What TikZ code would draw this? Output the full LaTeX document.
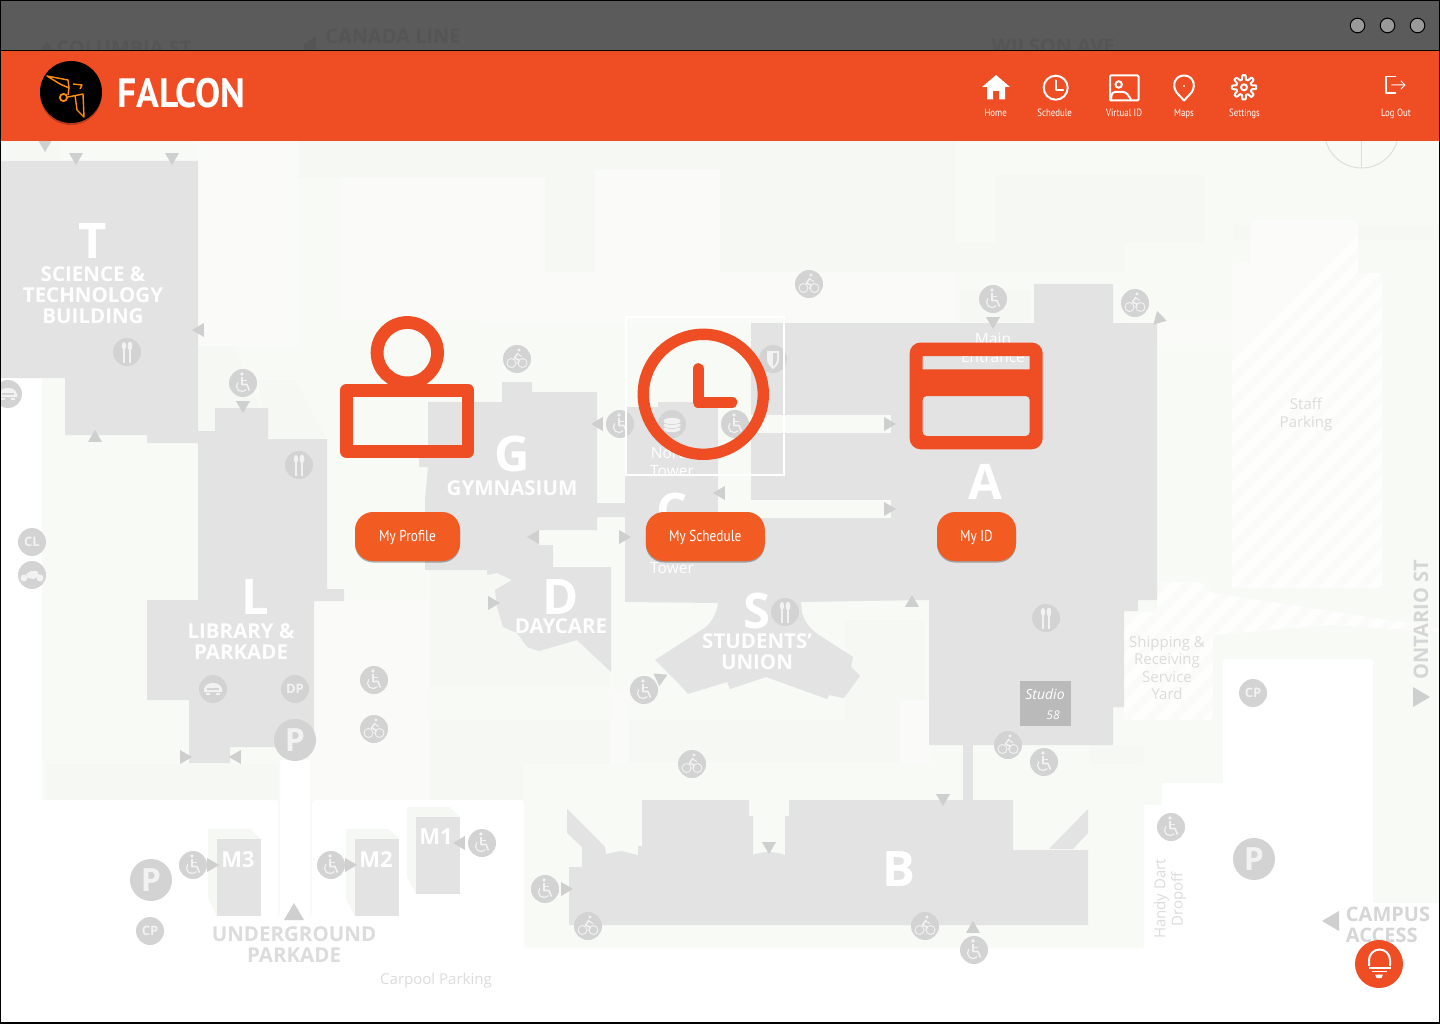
\documentclass[tikz,border=0pt]{standalone}
\usepackage{fontspec}
\setmainfont{Open Sans}
\newfontfamily\uifont[FakeStretch=0.84]{PT Sans}
\newfontfamily\brandfont[FakeStretch=0.92]{PT Sans}
\usetikzlibrary{shadows}
\definecolor{falcon}{HTML}{EF4D23}
\definecolor{falconbtn}{HTML}{F25B22}
\definecolor{barcol}{HTML}{5B5B5B}
\definecolor{ghostcol}{HTML}{555555}
\definecolor{mapbg}{HTML}{F8FAF5}
\definecolor{mapdark}{HTML}{F6F8F3}
\definecolor{maplight}{HTML}{FAFBF8}
\definecolor{hatchcol}{HTML}{FBFBF9}
\definecolor{bldcol}{HTML}{E3E3E3}
\definecolor{discol}{HTML}{D3D3D3}
\definecolor{tricol}{HTML}{CFCFCF}
\definecolor{txtgrey}{HTML}{DCDCDC}
\definecolor{glyphcol}{HTML}{F2F2F2}
\definecolor{logocol}{HTML}{FF8C0A}
\tikzset{
  bld/.style={fill=bldcol},
  biglet/.style={text=white,font=\bfseries\fontsize{49}{49}\selectfont,inner sep=0},
  bldtxt/.style={text=white!96!bldcol,align=center,inner sep=0,font=\bfseries\fontsize{20.5}{21.3}\selectfont},
  thintxt/.style={text=white,align=center,inner sep=0,font=\fontsize{15.5}{18}\selectfont},
  greytxt/.style={text=txtgrey,align=center,inner sep=0,font=\fontsize{15}{17.3}\selectfont},
  roadtxt/.style={text=tricol!85!white,align=center,inner sep=0,font=\bfseries\fontsize{20}{21.3}\selectfont},
  mletter/.style={text=white,inner sep=0,font=\bfseries\fontsize{22}{22}\selectfont},
  discnode/.style={circle,fill=discol,text=glyphcol,inner sep=0,minimum size=28,font=\bfseries\fontsize{13}{13}\selectfont},
  bignode/.style={discnode,minimum size=42,font=\bfseries\fontsize{32}{32}\selectfont},
  navtxt/.style={text=white,inner sep=0,anchor=base,font=\uifont\fontsize{10.5}{10.5}\selectfont},
  btn/.style={rounded corners=18,fill=falconbtn,text=white,minimum height=49,inner sep=0,
    text height=12,text depth=3,
    font=\uifont\fontsize{15.8}{15.8}\selectfont,
    drop shadow={shadow xshift=0pt,shadow yshift=-1.5pt,fill=black,opacity=.3}},
  hatchline/.style={draw=white,line width=9,opacity=.8},
  wheelpic/.pic={
    \fill[discol] (0,0) circle [radius=14];
    \fill[glyphcol] (-1,-9) circle [radius=1.8];
    \draw[glyphcol,line width=1.6,line join=round] (-1,-6) -- (-1,1.5) -- (4,1.5) -- (6.5,7.5);
    \draw[glyphcol,line width=1.3] (-1,-2.5) -- (4,-2.5);
    \draw[glyphcol,line width=1.2] (-5.2,-0.6) arc [start angle=220,end angle=40,radius=5.6];
  },
  bikepic/.pic={
    \fill[discol] (0,0) circle [radius=14];
    \draw[glyphcol,line width=.9] (-5.5,4) circle [radius=4.5];
    \draw[glyphcol,line width=.9] (5.5,4) circle [radius=4.5];
    \fill[glyphcol] (2,-9) circle [radius=1.6];
    \draw[glyphcol,line width=1.5,line join=round] (1,-6) -- (-2.5,-1) -- (2,1) -- (1,5);
    \draw[glyphcol,line width=1] (0.5,-5) -- (5,-2.5);
  },
  foodpic/.pic={
    \fill[discol] (0,0) circle [radius=14];
    \fill[glyphcol] (-3,-6) ellipse [x radius=2.2,y radius=4];
    \fill[glyphcol] (3,-6) ellipse [x radius=2.4,y radius=4.5];
    \draw[glyphcol,line width=1.4] (-3,-6) -- (-3,11);
    \draw[glyphcol,line width=1.4] (3,-6) -- (3,11);
  },
  carpic/.pic={
    \fill[discol] (0,0) circle [radius=14];
    \fill[glyphcol] (-9,0) .. controls (-8,-4) and (-5,-6) .. (0,-6) .. controls (5,-6) and (8,-4) .. (9,0) -- (9,3) -- (-9,3) -- cycle;
    \fill[discol] (-6,-1) rectangle (6,0.5);
    \fill[glyphcol] (-7,4) rectangle (-3,6);
    \fill[glyphcol] (3,4) rectangle (7,6);
  },
  motopic/.pic={
    \fill[discol] (0,0) circle [radius=14];
    \fill[glyphcol] (-8,3) circle [radius=3.5];
    \fill[glyphcol] (8,3) circle [radius=3.5];
    \fill[glyphcol] (-6,-1) -- (-1,-4) -- (5,-4) -- (7,0) -- (2,4) -- (-4,3) -- cycle;
  },
  stackpic/.pic={
    \fill[discol] (0,0) circle [radius=14];
    \foreach \sy in {5,1,-3}{
      \fill[glyphcol] (0,\sy) ellipse [x radius=9,y radius=3.6];
      \draw[discol,line width=.6] (0,\sy) ellipse [x radius=9,y radius=3.6];
    }
  },
  shieldpic/.pic={
    \fill[discol] (0,0) circle [radius=14];
    \fill[glyphcol] (-6,-8) -- (6,-8) -- (6,1) .. controls (6,5) and (2,8) .. (0,10) .. controls (-2,8) and (-6,5) .. (-6,1) -- cycle;
    \fill[discol] (0,-6) -- (4,-6) -- (4,1) .. controls (4,3) and (2,6) .. (0,7.5) -- cycle;
  },
}
\newcommand{\tmark}[4]{\fill[tricol,shift={(#1,#2)},rotate=#3,scale=#4] (1,0) -- (-.7,1) -- (-.7,-1) -- cycle;}
\begin{document}
\begin{tikzpicture}[x=1pt,y=-1pt]
\useasboundingbox (0,0) rectangle (1440,1024);
% map ground
\fill[mapbg] (0,141) rectangle (1440,1024);
\foreach \xa/\ya/\xb/\yb in {298/141/955/178,545/178/955/272,995/175/1205/243,955/243/1125/272,
  430/567/610/687,430/720/610/764,629/720/900/763,0/141/60/160,
  845/620/925/720,1090/745/1144/925,46/764/278/800,312/764/523/800,960/290/1030/322,1233/225/1440/240}
  \fill[mapdark] (\xa,\ya) rectangle (\xb,\yb);
\fill[mapdark] (198,346) -- (235,346) -- (268,430) -- (198,431) -- cycle;
\fill[mapdark] (258,380) -- (295,380) -- (325,437) -- (268,437) -- cycle;
% lighter paths
\foreach \xa/\ya/\xb/\yb in {198/141/298/346,340/178/545/320,595/170/720/300,760/272/955/320,
  480/272/760/322,610/690/629/800,900/700/930/800,1123/320/1232/345,310/600/430/800}
  \fill[maplight] (\xa,\ya) rectangle (\xb,\yb);
% white parking
\fill[white] (0,378) rectangle (42,800);
\fill[white,rounded corners=3] (0,800) rectangle (278,1024);
\fill[white,rounded corners=3] (312,800) rectangle (524,1024);
\fill[white] (280,760) rectangle (310,1024);
\fill[white] (0,916) rectangle (1440,1024);
\fill[mapbg,rounded corners=3] (524,764) rectangle (1144,948);
\fill[white,rounded corners=3] (1223,659) rectangle (1373,920);
\fill[white] (1162,783) rectangle (1373,1024);
\fill[white] (1144,805) rectangle (1373,1024);
\fill[white] (1373,903) rectangle (1440,1024);
% compass ring
\draw[mapdark!90!black,line width=1] (1361.5,131) circle [radius=37];
\draw[mapdark!90!black,line width=1] (1361.5,141) -- (1361.5,168);
% hatched staff parking and yard
\begin{scope}
  \clip[rounded corners=3] (1251,220) -- (1358,220) -- (1358,273) -- (1382,273) -- (1382,588) -- (1232,588) -- (1232,263) -- (1251,263) -- cycle;
  \fill[hatchcol] (1232,220) rectangle (1382,588);
  \foreach \i in {1000,1024,...,1760}
    \draw[hatchline] (\i,600) -- (\i+400,200);
\end{scope}
\begin{scope}
  \clip[rounded corners=3] (1124,612) -- (1157,612) -- (1157,582) -- (1200,582) -- (1213,593) -- (1440,628) -- (1440,632) -- (1330,625) -- (1213,635) -- (1213,720) -- (1124,720) -- cycle;
  \fill[hatchcol] (1124,582) rectangle (1440,720);
  \foreach \i in {1000,1024,...,1700}
    \draw[hatchline] (\i,760) -- (\i+240,520);
\end{scope}
% buildings
\fill[bld] (0,161) -- (198,161) -- (198,431) -- (215,431) -- (215,408) -- (268,408) -- (268,439) -- (327,439) -- (327,589) -- (344,589) -- (344,601) -- (314,601) -- (314,747) -- (230,747) -- (230,763) -- (189,763) -- (189,700) -- (147,700) -- (147,600) -- (198,600) -- (198,443) -- (147,443) -- (147,435) -- (65,435) -- (65,378) -- (0,378) -- cycle;
\fill[bld] (428,402) -- (502,402) -- (502,382) -- (532,382) -- (532,392) -- (597,392) -- (597,503) -- (625,503) -- (625,517) -- (597,517) -- (597,530) -- (539,530) -- (539,545) -- (553,545) -- (553,567) -- (611,567) -- (611,672) -- (577,640) -- (539,651) -- (527,647) -- (517,633) -- (503,627) -- (497,607) -- (495,590) -- (512,580) -- (497,573) -- (487,575) -- (487,570) -- (425,570) -- (425,500) -- (428,467) -- (419,467) -- (419,458) -- (428,458) -- cycle;
\fill[bld] (625,407) -- (658,407) -- (658,402) -- (697,402) -- (697,407) -- (718,407) -- (718,518) -- (751,518) -- (751,323) -- (1034,323) -- (1034,284) -- (1113,284) -- (1113,323) -- (1157,323) -- (1157,600) -- (1138,600) -- (1138,611) -- (1124,611) -- (1124,707) -- (1113,707) -- (1113,745) -- (929,745) -- (929,600) -- (801,602) -- (802,613) .. controls (806,625) and (812,630) .. (819,635) -- (853,657) -- (851,667) -- (860,676) -- (844,698) -- (829,695) -- (827,699) -- (766,677) -- (730,689) -- (727,682) -- (688,694) -- (680,685) -- (655,660) -- (706,627) .. controls (713,620) and (717,612) .. (718,603) -- (625,602) -- cycle;
\fill[mapbg] (718,415) rectangle (891,433);
\fill[mapbg] (718,500) rectangle (891,518);
\fill[bld] (963,745) rectangle (973,800);
\fill[bld] (569,867) -- (582,867) -- (582,847) -- (567,833) -- (567,809) -- (605,847) -- (606,854) -- (621,851) -- (638,855) -- (638,846) -- (642,846) -- (642,800) -- (749,800) -- (749,816) -- (753,816) -- (753,855) .. controls (763,851) and (775,851) .. (785,855) -- (785,816) -- (789,816) -- (789,800) -- (1013,800) -- (1013,850) -- (1088,850) -- (1088,925) -- (569,925) -- cycle;
\fill[bld] (1088,809) -- (1088,833) -- (1073,849) -- (1049,849) -- cycle;
\fill[mapdark] (208,829) -- (250,829) -- (261,839) -- (217,916) -- (208,899) -- cycle;
\fill[mapdark] (346,829) -- (388,829) -- (399,839) -- (355,916) -- (346,899) -- cycle;
\fill[mapdark] (407,807) -- (449,807) -- (460,817) -- (416,894) -- (407,877) -- cycle;
\fill[bld] (217,839) rectangle (261,916);
\fill[bld] (355,839) rectangle (399,916);
\fill[bld] (416,817) rectangle (460,894);
% building texts
\node[biglet] (letT) at (93,241) {T};
\node[bldtxt] (bldT) at (93,295) {SCIENCE \&\\TECHNOLOGY\\BUILDING};
\node[biglet] (letG) at (512,454) {G};
\node[bldtxt] (bldG) at (512,488) {GYMNASIUM};
\node[biglet] (letL) at (255,597) {L};
\node[bldtxt] (bldL) at (241,641.5) {LIBRARY \&\\PARKADE};
\node[biglet] (letD) at (561,597) {D};
\node[bldtxt] (bldD) at (561,626) {DAYCARE};
\node[biglet] (letS) at (757,611) {S};
\node[bldtxt] (bldS) at (757,651.5) {STUDENTS’\\UNION};
\node[biglet] (letA) at (985,482) {A};
\node[biglet] (letB) at (899,869) {B};
\node[biglet] (letC) at (672,511) {C};
\node[thintxt] (north) at (672,462) {North\\Tower};
\node[thintxt] (tower) at (672,568) {Tower};
\node[thintxt] (mainent) at (993,348) {Main\\Entrance};
\node[mletter] (mthree) at (238,860) {M3};
\node[mletter] (mtwo) at (376,860) {M2};
\node[mletter] (mone) at (436,837) {M1};
\node[roadtxt,text=txtgrey,font=\bfseries\fontsize{20.5}{21.3}\selectfont] (under) at (294,944.5) {UNDERGROUND\\PARKADE};
\node[greytxt] (carpool) at (436,980.5) {Carpool Parking};
\node[greytxt] (staff) at (1306,414.5) {Staff\\Parking};
\node[greytxt] (yard) at (1167,668) {Shipping \&\\Receiving\\Service\\Yard};
\node[greytxt,rotate=90] (handy) at (1170,899) {Handy Dart\\Dropoff};
\node[roadtxt,rotate=90] (ontario) at (1421,620) {ONTARIO ST};
\node[roadtxt,align=left] (campus) at (1388,924.5) {CAMPUS\\ACCESS};
% studio box
\fill[tricol!90!black] (1020,681) rectangle (1071,726);
\node[text=white,inner sep=0,font=\itshape\fontsize{14}{14}\selectfont] (studio) at (1045,694) {Studio};
\node[text=white,inner sep=0,font=\itshape\fontsize{12}{12}\selectfont] (fiftyeight) at (1053,715) {58};
% markers
\foreach \x/\y in {243/383,620/424,735/424,993/299,374/680,644/690,1044/762,1171/827,482/843,193/865,331/865,545/889,974/950}
  \pic at (\x,\y) {wheelpic};
\foreach \x/\y in {809/284,517/359,1135/303,374/729,692/764,1008/745,588/926,925/926}
  \pic at (\x,\y) {bikepic};
\foreach \x/\y in {127/352,299/465,785/612,1046/618}
  \pic at (\x,\y) {foodpic};
\pic at (8,394) {carpic};
\pic at (213,689) {carpic};
\pic at (32,575) {motopic};
\pic at (672,424) {stackpic};
\pic at (773,359) {shieldpic};
\node[discnode] (clnode) at (32,542) {CL};
\node[discnode] (dpnode) at (295,689) {DP};
\node[discnode] (cpleft) at (150,931) {CP};
\node[discnode] (cpright) at (1253,693) {CP};
\node[bignode] (pmid) at (295,740) {P};
\node[bignode] (pleft) at (151,880) {P};
\node[bignode] (pright) at (1254,859) {P};
% entry arrows
\foreach \x/\y/\a/\s in {45/145/270/7,76/158/270/7,172/158/270/7,199/330/180/7,243/406/270/7,95/437/90/7,
  598/424/180/7,534/537/180/7,624/537/0/7,720/493/180/7,889/424/0/7,889/509/0/7,912/602/90/7,1160/319/345/7,
  993/322/270/7,493/603/0/7,185/757/0/7,236/757/180/7,660/679/265/7,769/847/270/7,943/799/270/7,973/928/90/7,
  566/889/0/7,212/865/0/7,350/865/0/7,460/843/180/7,294/913/90/10,1420/697/0/10,1332/921/180/10}
  \tmark{\x}{\y}{\a}{\s}
% title bar
\fill[barcol] (0,0) rectangle (1440,50);
\begin{scope}
  \clip (0,0) rectangle (1440,50);
  \node[text=ghostcol,inner sep=0,font=\bfseries\fontsize{20}{20}\selectfont] (colst) at (124,48) {COLUMBIA ST};
  \node[text=ghostcol,inner sep=0,font=\bfseries\fontsize{20}{20}\selectfont] (canline) at (393,36) {CANADA LINE};
  \node[text=ghostcol,inner sep=0,font=\bfseries\fontsize{20}{20}\selectfont] (wilson) at (1053,46) {WILSON AVE};
  \fill[ghostcol] (47,50) -- (41,50) -- (47,42) -- (53,50) -- cycle;
  \fill[ghostcol] (304,44) -- (316,36) -- (316,50) -- (304,50) -- cycle;
\end{scope}
\foreach \x in {1357.5,1387.5,1417.5}
  \draw[black,fill=black!40,line width=1] (\x,25.5) circle [radius=7.3];
% orange header
\fill[falcon] (0,51) rectangle (1440,141);
\draw[black,line width=1.2] (0,50.5) -- (1440,50.5);
% logo
\fill[falcon!75!black] (71,94) circle [radius=31];
\fill[black] (71,92) circle [radius=31];
\draw[logocol,line width=1.4,line join=round] (47,76) -- (68,80) -- (69,88) -- (60,84) -- cycle;
\draw[logocol,line width=1.4,line join=round] (73,84) -- (82,85) -- (80,89);
\draw[logocol,line width=1.8] (63.5,97.5) circle [radius=3.6];
\draw[logocol,line width=1.4,line join=round] (68,95) -- (69,88) (68,97) -- (83,94) -- (84,117) -- (77,110) -- (75,95);
\node[text=white,inner sep=0,font=\brandfont\bfseries\fontsize{41}{41}\selectfont] (brand) at (181.5,93) {FALCON};
% nav icons
\fill[white,line join=round] (996,75) -- (1010,87) -- (1005,87) -- (1005,99.5) -- (999,99.5) -- (999,91) -- (993,91) -- (993,99.5) -- (987,99.5) -- (987,87) -- (982,87) -- cycle;
\draw[white,line width=2] (1055.7,87.7) circle [radius=12];
\draw[white,line width=2,line cap=round,line join=round] (1055.7,80.5) -- (1055.7,90) -- (1063,90);
\draw[white,line width=2,rounded corners=1] (1110,75.5) rectangle (1138.5,100.5);
\draw[white,line width=2] (1118.7,84.5) circle [radius=3.2];
\draw[white,line width=2,rounded corners=3] (1111,99.5) -- (1112,92) -- (1126,92) -- (1131,99.5);
\draw[white,line width=2,line join=round] (1184,100.5) -- (1176.5,92.5) .. controls (1171,84) and (1176,75.5) .. (1184,75.5) .. controls (1192,75.5) and (1197,84) .. (1191.5,92.5) -- cycle;
\fill[white] (1184,86) circle [radius=1.2];
\draw[white,line width=2,line join=round] plot [smooth cycle,samples=81,domain=0:356,variable=\t] ({1244+(10+2.2*max(-1,min(1,2.5*cos(8*\t))))*cos(\t)},{87.3+(10+2.2*max(-1,min(1,2.5*cos(8*\t))))*sin(\t)});
\draw[white,line width=2] (1244,87.3) circle [radius=3];
\draw[white,line width=1.6,line cap=round,line join=round] (1395.5,76.5) -- (1386,76.5) -- (1386,93) -- (1395.5,93);
\draw[white,line width=1,line cap=round,line join=round] (1391.5,85) -- (1405,85) (1401,81) -- (1405,85) -- (1401,89);
\node[navtxt] (navhome) at (995.7,116.5) {Home};
\node[navtxt] (navsched) at (1054.7,116.5) {Schedule};
\node[navtxt] (navid) at (1124,116.5) {Virtual ID};
\node[navtxt] (navmaps) at (1184,116.5) {Maps};
\node[navtxt] (navset) at (1244.5,116.5) {Settings};
\node[navtxt] (navout) at (1396,116.5) {Log Out};
% tiles
\draw[falcon,line width=12.8] (407.3,352.7) circle [radius=30.2];
\draw[falcon,line width=12.7,line join=round] (346.3,390.4) rectangle (468,451.3);
\draw[white,line width=2] (626,317) rectangle (784,475);
\draw[falcon,line width=11.4] (703.3,394.3) circle [radius=60];
\draw[falcon,line width=11.6,line cap=round,line join=round] (698.3,369) -- (698.3,402.4) -- (731.6,402.4);
\fill[falcon,even odd rule] [rounded corners=11] (909.6,342.5) rectangle (1042.7,449.3)
  [sharp corners] (922.6,356) rectangle (1029.7,369.3)
  [rounded corners=4] (922.6,396) -- (1029.7,396) -- (1029.7,436) -- (922.6,436) -- cycle;
\node[btn,minimum width=105] (myprofile) at (407.5,536.5) {My Profile};
\node[btn,minimum width=119] (myschedule) at (705.3,536.5) {My Schedule};
\node[btn,minimum width=79] (myid) at (976.5,536.5) {My ID};
% help bulb
\node[circle,fill=falcon,minimum size=48,inner sep=0] (helpbtn) at (1379,964) {};
\draw[white,line width=2] (1369,966) -- (1369,960) arc [start angle=180,end angle=360,radius=10.5] -- (1390,966);
\draw[white,line width=1.5] (1368.5,968) -- (1390.5,968) (1372,971.7) -- (1387,971.7);
\fill[white] (1375,974.5) -- (1383,974.5) -- (1381.5,978) -- (1376.5,978) -- cycle;
% frame
\draw[black,line width=1.4] (0.4,0.6) rectangle (1439.6,1022.8);
\end{tikzpicture}
\end{document}
